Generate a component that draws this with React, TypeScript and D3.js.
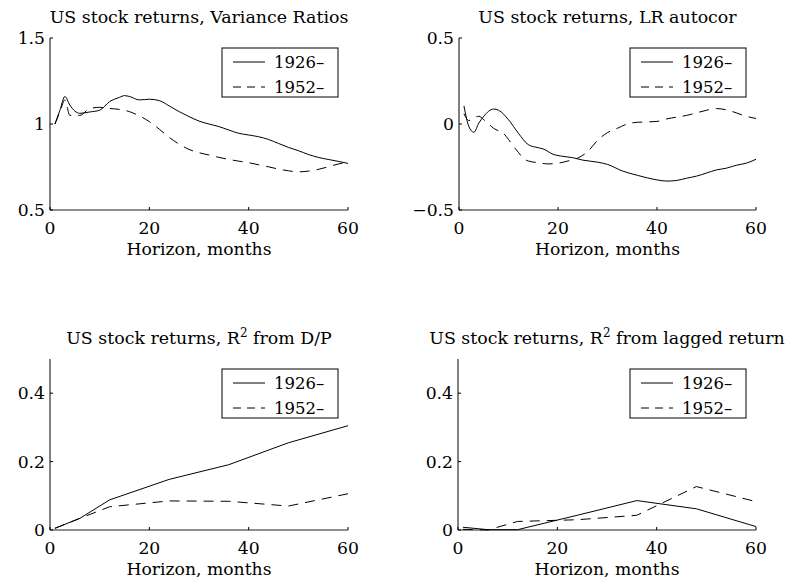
import React from "react";
import * as d3 from "d3";

// Variance ratios, monthly horizons
const vrMonths = [1, 2, 3, 4, 5, 6, 8, 10, 12, 14, 15, 16, 18, 20, 22, 24, 26, 28, 30, 32, 34, 36, 38, 40, 42, 44, 46, 48, 50, 52, 54, 56, 58, 60];
const vr1926 = [1.0, 1.08, 1.16, 1.11, 1.075, 1.062, 1.07, 1.08, 1.13, 1.155, 1.165, 1.16, 1.14, 1.144, 1.136, 1.105, 1.072, 1.043, 1.017, 1.0, 0.985, 0.965, 0.946, 0.936, 0.926, 0.91, 0.887, 0.864, 0.845, 0.823, 0.806, 0.794, 0.783, 0.771];
const vr1952 = [1.0, 1.07, 1.14, 1.05, 1.05, 1.05, 1.09, 1.097, 1.09, 1.085, 1.08, 1.072, 1.047, 1.014, 0.97, 0.922, 0.883, 0.852, 0.833, 0.82, 0.806, 0.794, 0.784, 0.775, 0.763, 0.751, 0.738, 0.728, 0.722, 0.726, 0.736, 0.751, 0.767, 0.779];

// Long-run autocorrelation
const arMonths1926 = [1, 2, 3, 4, 5, 7, 8, 10, 12, 14, 16, 17, 19, 21, 23, 25, 28, 30, 33, 36, 38, 40, 42, 44, 46, 48, 50, 52, 54, 56, 58, 60];
const ar1926 = [0.105, -0.015, -0.048, 0.005, 0.045, 0.087, 0.08, 0.025, -0.054, -0.12, -0.138, -0.145, -0.176, -0.188, -0.196, -0.21, -0.222, -0.235, -0.273, -0.298, -0.313, -0.325, -0.332, -0.328, -0.315, -0.303, -0.285, -0.267, -0.257, -0.24, -0.228, -0.205];
const arMonths1952 = [1, 2, 3, 4, 5, 6, 7, 8, 9, 10, 11, 12, 13, 14, 16, 18, 20, 22, 24, 26, 28, 30, 32, 34, 36, 38, 40, 42, 44, 46, 48, 50, 52, 54, 56, 58, 60];
const ar1952 = [0.06, 0.02, 0.035, 0.045, 0.025, 0.0, -0.025, -0.04, -0.055, -0.09, -0.13, -0.165, -0.2, -0.215, -0.225, -0.232, -0.228, -0.215, -0.198, -0.16, -0.095, -0.05, -0.025, 0.0, 0.01, 0.012, 0.015, 0.03, 0.04, 0.05, 0.065, 0.08, 0.09, 0.082, 0.065, 0.045, 0.032];

// R-squared from dividend/price regressions
const dpMonths = [1, 6, 12, 24, 36, 48, 60];
const dp1926 = [0.005, 0.034, 0.088, 0.148, 0.191, 0.255, 0.305];
const dp1952 = [0.005, 0.034, 0.068, 0.085, 0.084, 0.07, 0.106];

// R-squared from lagged return regressions
const lagMonths = [1, 6, 12, 24, 36, 48, 60];
const lag1926 = [0.008, 0.001, 0.001, 0.043, 0.086, 0.062, 0.01];
const lag1952 = [0.002, 0.0, 0.025, 0.03, 0.043, 0.127, 0.083];

const xTicks = [0, 20, 40, 60];
const legendLabels = ["1926\u2013", "1952\u2013"];

const FONT = "'DejaVu Serif', serif";
const FS = 17.2;

type Panel = {
  title: React.ReactNode;
  left: number;
  right: number;
  top: number;
  bottom: number;
  yDomain: [number, number];
  yTicks: number[];
  s1: [number[], number[]];
  s2: [number[], number[]];
  smooth: boolean;
};

const fmtTick = (v: number) => (v < 0 ? "\u2212" : "") + String(Math.abs(v));

const R2 = (rest: string) => (
  <>
    {"US stock returns, R"}
    <tspan dy={-7} fontSize={12}>2</tspan>
    <tspan dy={7}>{rest}</tspan>
  </>
);

const panels: Panel[] = [
  {
    title: "US stock returns, Variance Ratios",
    left: 50, right: 348, top: 38, bottom: 210,
    yDomain: [0.5, 1.5], yTicks: [0.5, 1, 1.5],
    s1: [vrMonths, vr1926], s2: [vrMonths, vr1952], smooth: true,
  },
  {
    title: "US stock returns, LR autocor",
    left: 459, right: 756, top: 38, bottom: 210,
    yDomain: [-0.5, 0.5], yTicks: [-0.5, 0, 0.5],
    s1: [arMonths1926, ar1926], s2: [arMonths1952, ar1952], smooth: true,
  },
  {
    title: R2(" from D/P"),
    left: 50, right: 348, top: 359, bottom: 530,
    yDomain: [0, 0.5], yTicks: [0, 0.2, 0.4],
    s1: [dpMonths, dp1926], s2: [dpMonths, dp1952], smooth: false,
  },
  {
    title: R2(" from lagged return"),
    left: 458, right: 756, top: 359, bottom: 530,
    yDomain: [0, 0.5], yTicks: [0, 0.2, 0.4],
    s1: [lagMonths, lag1926], s2: [lagMonths, lag1952], smooth: false,
  },
];

const DASH = "10,7";

function PanelView({ p }: { p: Panel }) {
  const x = d3.scaleLinear().domain([0, 60]).range([p.left, p.right]);
  const y = d3.scaleLinear().domain(p.yDomain).range([p.bottom, p.top]);
  const line = d3
    .line<[number, number]>()
    .x((d) => x(d[0]))
    .y((d) => y(d[1]))
    .curve(p.smooth ? d3.curveMonotoneX : d3.curveLinear);
  const pts = (s: [number[], number[]]) => s[0].map((m, i) => [m, s[1][i]] as [number, number]);
  const cx = (p.left + p.right) / 2;
  const lgR = p.right - 10;
  const lgL = lgR - 116;
  const lgT = p.top + 10;
  return (
    <g>
      <text x={cx} y={p.top - 15} textAnchor="middle" fontSize={17.4}>
        {p.title}
      </text>
      {/* axes */}
      <line x1={p.left} x2={p.left} y1={p.top} y2={p.bottom} stroke="#000" strokeWidth={1} />
      <line x1={p.left} x2={p.right} y1={p.bottom} y2={p.bottom} stroke="#222" strokeWidth={1.2} />
      {xTicks.map((t) => (
        <g key={"x" + t}>
          <line x1={x(t)} x2={x(t)} y1={p.bottom} y2={p.bottom - 3} stroke="#000" />
          <text x={x(t)} y={p.bottom + 24} textAnchor="middle" fontSize={FS}>
            {t}
          </text>
        </g>
      ))}
      {p.yTicks.map((t) => (
        <g key={"y" + t}>
          <line x1={p.left} x2={p.left + 3} y1={y(t)} y2={y(t)} stroke="#000" />
          <text x={p.left - 5} y={y(t) + 6} textAnchor="end" fontSize={FS}>
            {fmtTick(t)}
          </text>
        </g>
      ))}
      <text x={cx} y={p.bottom + 45} textAnchor="middle" fontSize={FS}>
        Horizon, months
      </text>
      {/* series */}
      <path d={line(pts(p.s1)) || ""} fill="none" stroke="#000" strokeWidth={1} />
      <path d={line(pts(p.s2)) || ""} fill="none" stroke="#000" strokeWidth={1} strokeDasharray={DASH} />
      {/* legend */}
      <rect x={lgL} y={lgT} width={116} height={49} fill="#fff" stroke="#000" strokeWidth={1} />
      <line x1={lgL + 11} x2={lgL + 43} y1={lgT + 14} y2={lgT + 14} stroke="#000" />
      <line x1={lgL + 11} x2={lgL + 43} y1={lgT + 39} y2={lgT + 39} stroke="#000" strokeDasharray="8,6" />
      <text x={lgL + 52} y={lgT + 20} fontSize={16.5}>{legendLabels[0]}</text>
      <text x={lgL + 52} y={lgT + 45} fontSize={16.5}>{legendLabels[1]}</text>
    </g>
  );
}

export default function App() {
  return (
    <svg width={785} height={580} style={{ display: "block", position: "absolute", left: 0, top: 0 }} fontFamily={FONT} fill="#000">
      <rect x={0} y={0} width={785} height={580} fill="#fff" />
      {panels.map((p, i) => (
        <PanelView key={i} p={p} />
      ))}
    </svg>
  );
}
